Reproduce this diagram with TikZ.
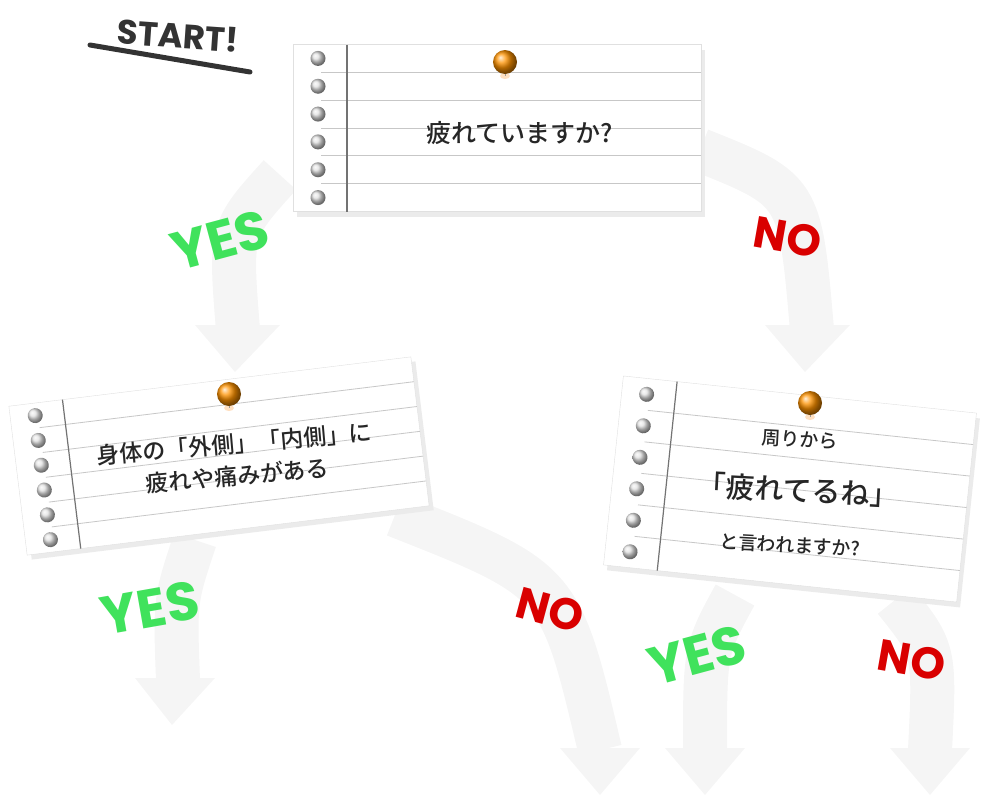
\documentclass[tikz,border=0pt]{standalone}
\usepackage{fontspec}
\newfontfamily\jp{Noto Sans CJK JP Medium}
\newfontfamily\lab{Poppins}
\usetikzlibrary{patterns,shadings}
\tikzset{
  arrowbody/.style={line width=44pt,draw=black!4},
  arrowhead/.style={fill=black!4},
  yeslabel/.style={font=\lab\bfseries\fontsize{54}{54}\selectfont,text=green!70!teal!75!white},
  nolabel/.style={font=\lab\bfseries\fontsize{44}{44}\selectfont,text=red!85!black},
  cardtext/.style={font=\jp\fontsize{23}{32}\selectfont,text=black!85,align=center}
}
\newcommand\mycard[6]{%
\begin{scope}[shift={(#2,-#3)},rotate=#4]
\fill[black!8] ({-#5/2+4},{-#6/2-5}) rectangle ({#5/2+4},{#6/2-5});
\node[draw=black!12,fill=white,minimum width=#5pt,minimum height=#6pt,inner sep=0pt,transform shape] (#1) at (0,0) {};
\foreach \k in {1,...,5} \draw[black!22,line width=0.8pt] ({-#5/2+28},{#6/2-\k*#6/6}) -- ({#5/2},{#6/2-\k*#6/6});
\foreach \k in {1,...,6} \shade[ball color=black!12] ({-#5/2+25},{#6/2-\k*#6/6+#6/12}) circle (7.5);
\draw[black!55,line width=1.2pt] ({-#5/2+54},{#6/2}) -- ({-#5/2+54},{-#6/2});
\end{scope}}
\newcommand\mypin[3]{%
\fill[orange!40,opacity=0.6] (#2,{-#3-14}) ellipse (5 and 3);
\draw[black!40,line width=1pt] (#2,-#3) -- (#2,{-#3-14});
\shade[ball color=orange!85!yellow] (#2,-#3) circle (12) coordinate (#1);}
\begin{document}
\begin{tikzpicture}[x=1pt,y=1pt]
\useasboundingbox (0,0) rectangle (994,-809);
% arrows
\coordinate (a1s) at (280,-175); \coordinate (a1e) at (238,-330);
\draw[arrowbody] (a1s) .. controls (230,-230) .. (a1e);
\fill[arrowhead] (195,-325) -- (280,-325) -- (235,-372) -- cycle;
\coordinate (a2s) at (700,-150); \coordinate (a2e) at (812,-330);
\draw[arrowbody] (a2s) .. controls (800,-190) .. (a2e);
\fill[arrowhead] (765,-325) -- (850,-325) -- (805,-372) -- cycle;
\coordinate (a3s) at (195,-540); \coordinate (a3e) at (178,-680);
\draw[arrowbody] (a3s) .. controls (175,-600) .. (a3e);
\fill[arrowhead] (135,-678) -- (215,-678) -- (172,-725) -- cycle;
\coordinate (a4s) at (395,-515); \coordinate (a4e) at (600,-750);
\draw[arrowbody] (a4s) .. controls (560,-580) .. (a4e);
\fill[arrowhead] (560,-748) -- (640,-748) -- (600,-795) -- cycle;
\coordinate (a5s) at (735,-595); \coordinate (a5e) at (705,-750);
\draw[arrowbody] (a5s) .. controls (705,-650) .. (a5e);
\fill[arrowhead] (665,-748) -- (745,-748) -- (705,-795) -- cycle;
\coordinate (a6s) at (895,-600); \coordinate (a6e) at (930,-750);
\draw[arrowbody] (a6s) .. controls (935,-650) .. (a6e);
\fill[arrowhead] (890,-748) -- (970,-748) -- (930,-795) -- cycle;
% cards
\mycard{c1}{497}{128}{0}{408}{167}
\mypin{p1}{505}{62}
\node[cardtext,font=\jp\fontsize{25}{30}\selectfont] (t1) at (520,-133) {疲れていますか?};
\mycard{c2}{219}{456}{7}{405}{150}
\mypin{p2}{229}{394}
\node[cardtext,rotate=5] (t2) at (236,-460) {身体の「外側」「内側」に\\疲れや痛みがある};
\mycard{c3}{790}{489}{-6}{355}{190}
\mypin{p3}{810}{403}
\node[cardtext,rotate=-3,font=\jp\fontsize{19}{24}\selectfont] (t3a) at (800,-440) {周りから};
\node[cardtext,rotate=-3,font=\jp\fontsize{29}{30}\selectfont] (t3b) at (798,-490) {「疲れてるね」};
\node[cardtext,rotate=-3,font=\jp\fontsize{19}{24}\selectfont] (t3c) at (790,-545) {と言われますか?};
% labels
\node[yeslabel,rotate=15] (y1) at (220,-240) {YES};
\node[nolabel,rotate=-10] (n1) at (788,-237) {NO};
\node[yeslabel,rotate=10] (y2) at (150,-608) {YES};
\node[nolabel,rotate=-15] (n2) at (550,-610) {NO};
\node[yeslabel,rotate=15] (y3) at (697,-655) {YES};
\node[nolabel,rotate=-10] (n3) at (912,-660) {NO};
% start
\node[font=\lab\bfseries\fontsize{34}{34}\selectfont,text=black!80,rotate=-4] (st) at (178,-36) {START!};
\coordinate (u1) at (90,-45); \coordinate (u2) at (250,-72);
\draw[black!80,line width=5pt,line cap=round] (u1) .. controls (170,-58) .. (u2);
\end{tikzpicture}
\end{document}
